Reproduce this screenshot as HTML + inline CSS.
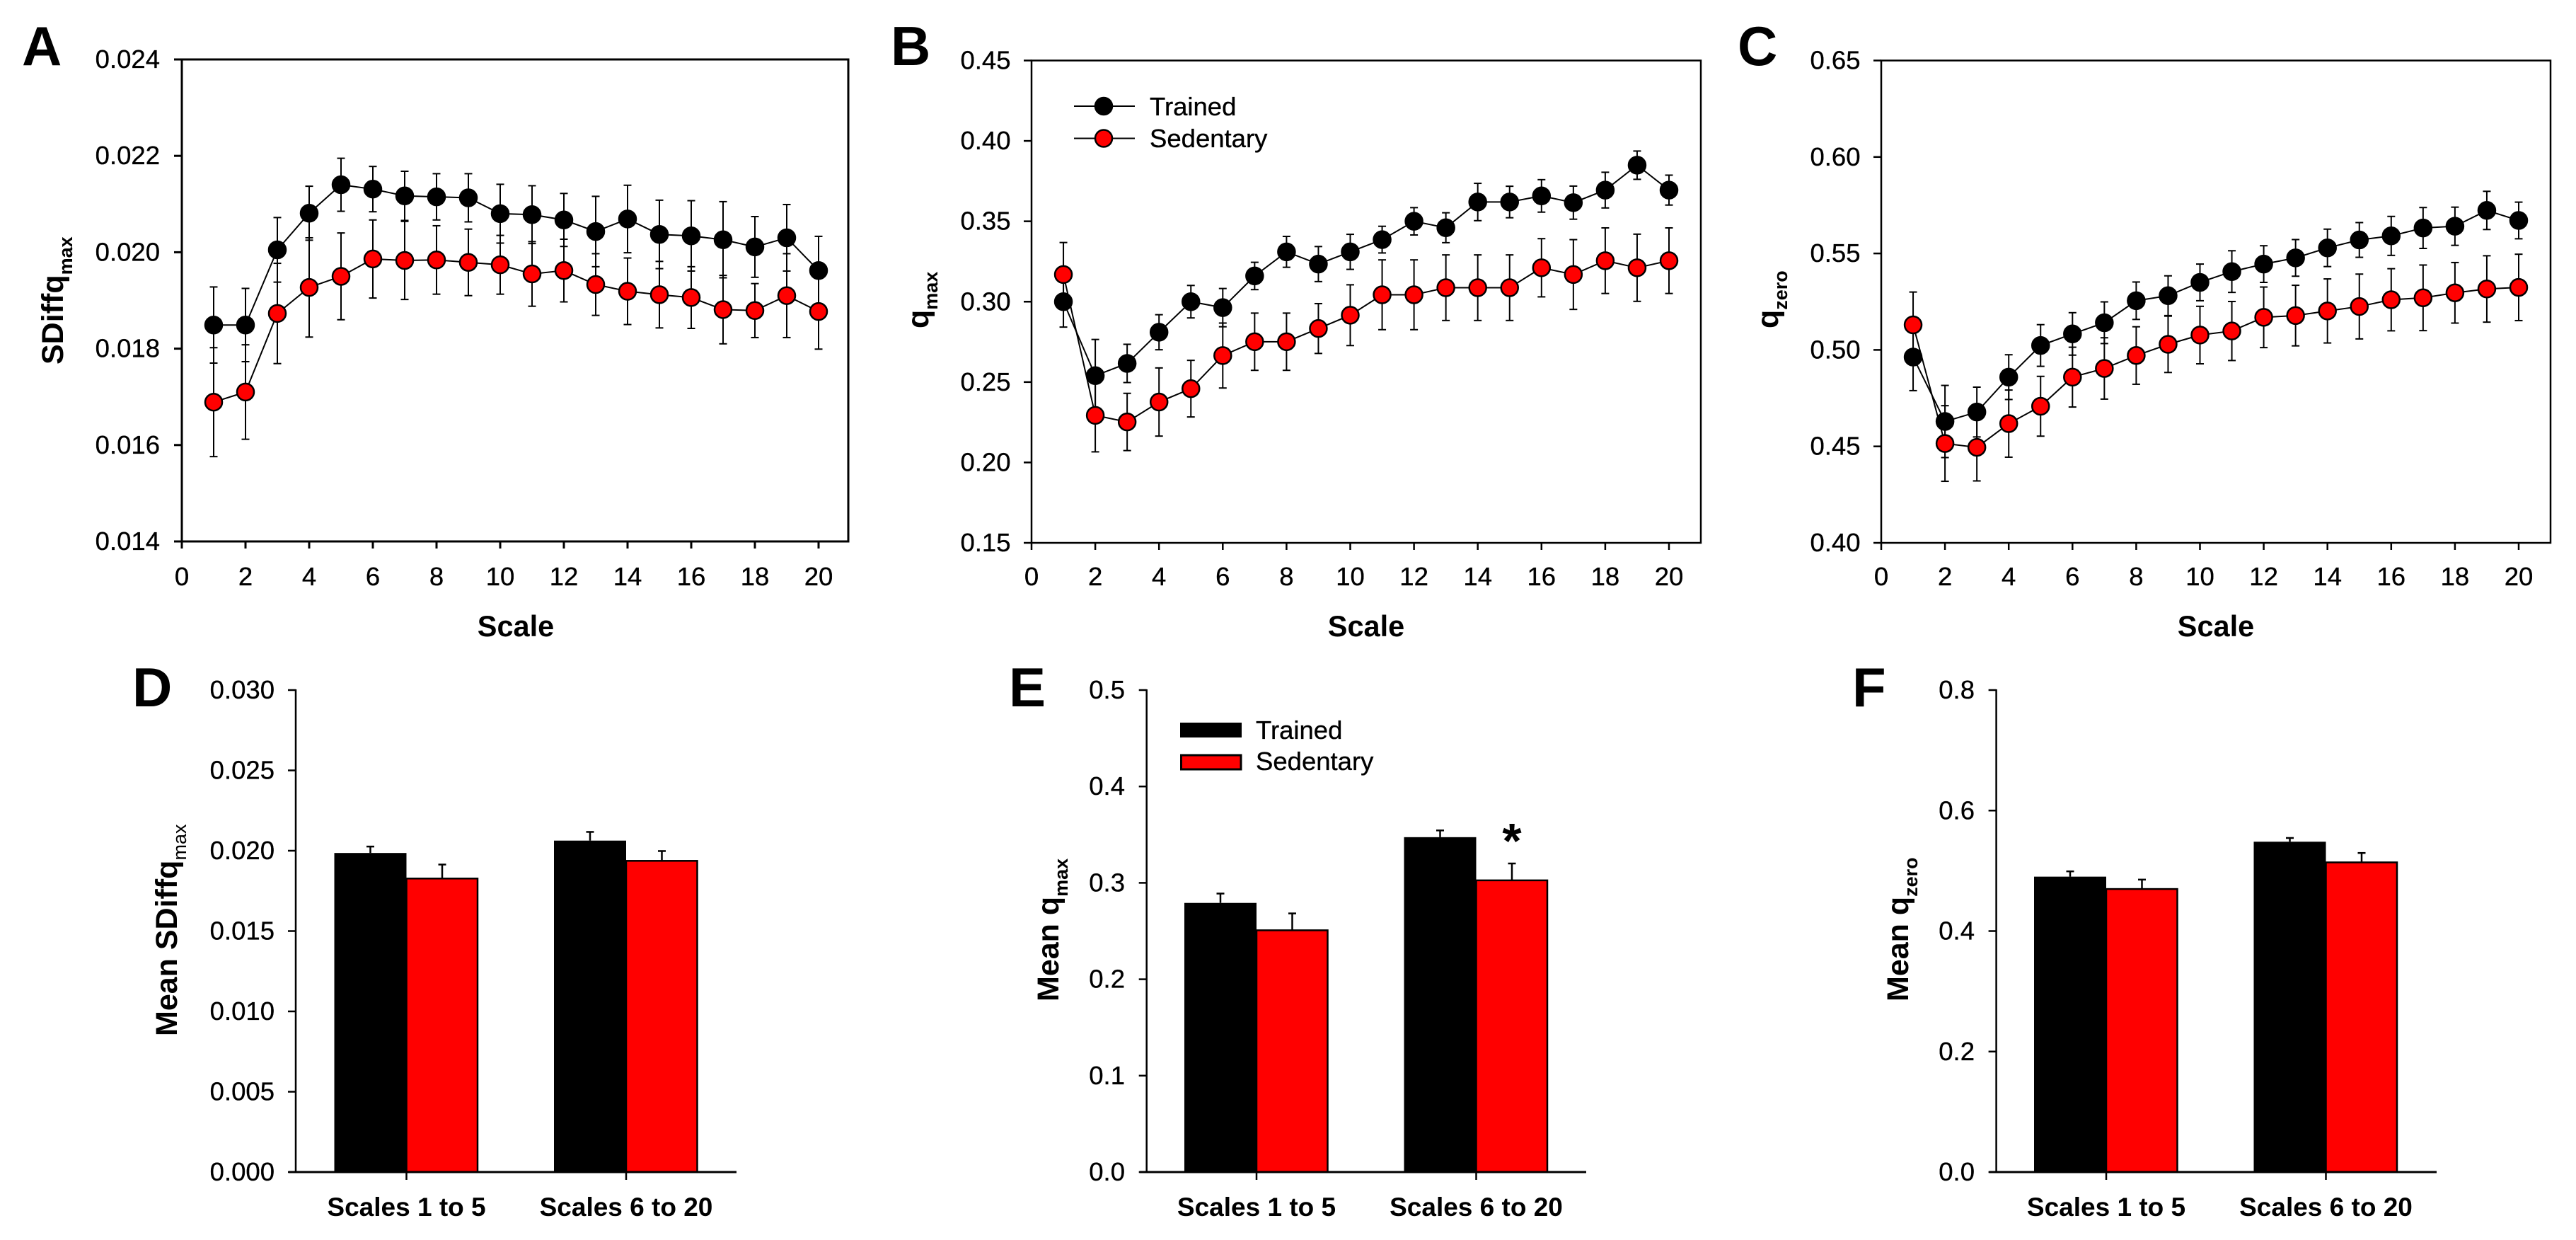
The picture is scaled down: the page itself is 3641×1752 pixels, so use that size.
<!DOCTYPE html>
<html lang="en">
<head>
<meta charset="utf-8">
<title>Multiscale q statistics: Trained vs Sedentary</title>
<style>
html,body{margin:0;padding:0;background:#fff;}
svg{display:block;}
text{font-family:"Liberation Sans",Arial,sans-serif;fill:#000;}
.letter{font-size:78px;font-weight:700;}
.title{font-size:43px;font-weight:700;}
.xtitle{font-size:41.5px;font-weight:700;}
.tick{font-size:36.5px;stroke:#000;stroke-width:0.35px;}
.cat{font-size:37px;font-weight:700;}
.sub{font-size:27px;font-weight:700;}
.subr{font-size:27px;font-weight:400;}
</style>
</head>
<body>
<svg id="fig" xmlns="http://www.w3.org/2000/svg" width="3641" height="1752" viewBox="0 0 3641 1752">
<rect x="0" y="0" width="3641" height="1752" fill="#fff"/>
<text class="letter" x="31" y="92">A</text>
<text class="letter" x="1259" y="92">B</text>
<text class="letter" x="2456" y="92">C</text>
<text class="letter" x="187" y="998">D</text>
<text class="letter" x="1426" y="998">E</text>
<text class="letter" x="2618" y="998">F</text>

<text class="title" transform="translate(89,515) rotate(-90)">SDiffq<tspan class="sub" dy="13">max</tspan></text>
<text class="title" transform="translate(1312,464) rotate(-90)">q<tspan class="sub" dy="13">max</tspan></text>
<text class="title" transform="translate(2513,464) rotate(-90)">q<tspan class="sub" dy="13">zero</tspan></text>
<text class="title" transform="translate(250,1464) rotate(-90)">Mean SDiffq<tspan class="subr" dy="13">max</tspan></text>
<text class="title" transform="translate(1496,1415) rotate(-90)">Mean q<tspan class="sub" dy="13">max</tspan></text>
<text class="title" transform="translate(2697,1415) rotate(-90)">Mean q<tspan class="sub" dy="13">zero</tspan></text>

<text class="xtitle" x="729" y="899" text-anchor="middle">Scale</text>
<text class="xtitle" x="1931" y="899" text-anchor="middle">Scale</text>
<text class="xtitle" x="3132" y="899" text-anchor="middle">Scale</text>

<g>
  <line x1="1518" y1="150" x2="1604" y2="150" stroke="#000" stroke-width="2"/>
  <circle cx="1560" cy="150" r="12.5" fill="#000" stroke="#000" stroke-width="1.5"/>
  <text class="tick" x="1625" y="163">Trained</text>
  <line x1="1518" y1="195.5" x2="1604" y2="195.5" stroke="#000" stroke-width="2"/>
  <circle cx="1560" cy="195.5" r="12" fill="#f00" stroke="#000" stroke-width="2.5"/>
  <text class="tick" x="1625" y="208">Sedentary</text>
</g>
<g>
  <rect x="1668" y="1021" width="87" height="21" fill="#000"/>
  <text class="tick" x="1775" y="1044">Trained</text>
  <rect x="1669.5" y="1067" width="84.5" height="20" fill="#f00" stroke="#000" stroke-width="3"/>
  <text class="tick" x="1775" y="1088">Sedentary</text>
</g>
<text x="2137" y="1212" text-anchor="middle" font-size="70" font-weight="700">*</text>
</svg>

<script>
// ---- shared axis tick labels ----
const scaleTicks = ["0","2","4","6","8","10","12","14","16","18","20"];
const scales = [1,2,3,4,5,6,7,8,9,10,11,12,13,14,15,16,17,18,19,20];
const groupCategories = ["Scales 1 to 5","Scales 6 to 20"];

// ---- panel A: SDiffq max ----
const ticksA = ["0.014","0.016","0.018","0.020","0.022","0.024"];
const trainedA = [.01849,.01849,.02005,.02081,.0214,.02131,.02117,.02115,.02113,.0208,.02078,.02067,.02043,.02069,.02037,.02034,.02026,.02011,.0203,.01962];
const trainedErrA = [.00079,.00076,.00067,.00056,.00055,.00047,.00051,.00048,.0005,.00061,.0006,.00055,.00073,.0007,.00071,.00073,.00079,.00063,.00069,.00071];
const sedentaryA = [.01689,.0171,.01873,.01927,.0195,.01986,.01983,.01984,.01979,.01974,.01955,.01962,.01933,.01919,.01912,.01906,.01881,.01879,.0191,.01877];
const sedentaryErrA = [.00113,.00098,.00104,.00103,.0009,.00081,.00081,.00071,.00069,.00061,.00067,.00065,.00064,.00069,.00069,.00064,.00071,.00056,.00087,.00078];

// ---- panel B: q max ----
const ticksB = ["0.15","0.20","0.25","0.30","0.35","0.40","0.45"];
const trainedB = [.30,.254,.2616,.281,.30,.2963,.316,.331,.3234,.331,.3386,.35,.346,.362,.362,.3658,.3616,.3694,.3849,.3694];
const trainedErrB = [.0158,.0225,.0119,.0109,.0101,.0119,.0085,.0096,.0109,.0109,.0083,.0085,.0093,.0116,.0098,.0101,.0103,.0111,.0088,.0093];
const sedentaryB = [.3169,.2293,.2252,.2376,.2459,.2665,.2751,.2751,.2833,.2916,.3043,.3043,.3087,.3087,.3087,.3211,.3169,.3255,.3211,.3255];
const sedentaryErrB = [.0199,.0227,.0178,.0212,.0176,.0202,.0178,.0178,.0155,.0189,.0217,.0217,.0204,.0204,.0204,.0181,.0217,.0204,.0209,.0204];

// ---- panel C: q zero ----
const ticksC = ["0.40","0.45","0.50","0.55","0.60","0.65"];
const trainedC = [.4963,.4629,.4678,.4859,.5023,.5083,.5141,.5255,.5281,.535,.5406,.5445,.5477,.5529,.557,.5591,.5632,.5641,.5723,.5671];
const trainedErrC = [.0174,.0187,.0129,.0116,.0108,.011,.0108,.0097,.0103,.0095,.0108,.0095,.0095,.0097,.009,.0101,.0106,.0099,.0099,.0095];
const sedentaryC = [.513,.4515,.4495,.4618,.4708,.4859,.4904,.4971,.5029,.5077,.5098,.5169,.5178,.5202,.5225,.526,.527,.5296,.5316,.5324];
const sedentaryErrC = [.017,.0196,.0174,.0174,.0155,.0155,.0159,.0149,.0146,.0149,.0153,.0157,.0157,.0166,.0168,.0161,.017,.0157,.0172,.0172];

// ---- panel D: mean SDiffq max ----
const ticksD = ["0.000","0.005","0.010","0.015","0.020","0.025","0.030"];
const trainedD = [.01986,.02063];
const trainedErrD = [.0004,.00054];
const sedentaryD = [.01827,.01937];
const sedentaryErrD = [.00087,.00061];

// ---- panel E: mean q max ----
const ticksE = ["0.0","0.1","0.2","0.3","0.4","0.5"];
const trainedE = [.2792,.3474];
const trainedErrE = [.0097,.007];
const sedentaryE = [.2508,.3026];
const sedentaryErrE = [.0175,.0175];

// ---- panel F: mean q zero ----
const ticksF = ["0.0","0.2","0.4","0.6","0.8"];
const trainedF = [.4903,.5483];
const trainedErrF = [.0088,.0062];
const sedentaryF = [.4698,.514];
const sedentaryErrF = [.0156,.0156];

const svgNS = "http://www.w3.org/2000/svg";
const fig = document.getElementById("fig");

function make(tag, attrs, parent, txt) {
  const el = document.createElementNS(svgNS, tag);
  for (const k in attrs) el.setAttribute(k, attrs[k]);
  if (txt !== undefined) el.textContent = txt;
  parent.appendChild(el);
  return el;
}
function linear(d0, d1, r0, r1) {
  return function (v) { return r0 + (v - d0) * (r1 - r0) / (d1 - d0); };
}
function vline(parent, x, y1, y2, w, name) {
  const el = make("line", {x1:x, x2:x, y1:y1, y2:y2, stroke:"#000", "stroke-width":w}, parent);
  
  
  return el;
}
function hline(parent, x1, x2, y, w, name) {
  const el = make("line", {x1:x1, x2:x2, y1:y, y2:y, stroke:"#000", "stroke-width":w}, parent);
  
  
  return el;
}
function yAxisTicks(parent, labels, yScale, axisX, rightEdge, tickLen, w, id) {
  labels.forEach(function (lab) {
    const y = yScale(Number(lab));
    hline(parent, axisX - tickLen, axisX, y, w, "y-tick-" + id);
    const t = make("text", {class:"tick", x:rightEdge, y:y + 12, "text-anchor":"end"}, parent, lab);
    
    
  });
}

function drawSeries(parent, xS, yS, values, errs, fill, seriesName) {
  const g = make("g", {}, parent);
  
  
  values.forEach(function (v, i) {
    const x = xS(scales[i]);
    const hi = yS(v + errs[i]), lo = yS(v - errs[i]);
    vline(g, x, hi, lo, 2, "error-bar-" + seriesName);
    hline(g, x - 5.5, x + 5.5, hi, 2, "error-cap-" + seriesName);
    hline(g, x - 5.5, x + 5.5, lo, 2, "error-cap-" + seriesName);
  });
  const pts = values.map(function (v, i) { return xS(scales[i]) + "," + yS(v); }).join(" ");
  const line = make("polyline", {points:pts, fill:"none", stroke:"#000", "stroke-width":2}, g);
  
  
  values.forEach(function (v, i) {
    const c = make("circle", {cx:xS(scales[i]), cy:yS(v), r:12, fill:fill, stroke:"#000", "stroke-width":2.5}, g);
    
    
  });
}

function linePanel(id, left, right, top, bottom, unit, frameW, labelRight, ticks, trained, trainedErr, sedentary, sedentaryErr) {
  const g = make("g", {}, fig);
  
  
  const xS = linear(0, 1, left, left + unit);
  const yS = linear(Number(ticks[0]), Number(ticks[ticks.length - 1]), bottom, top);
  const frame = make("rect", {x:left, y:top, width:right - left, height:bottom - top, fill:"none", stroke:"#000", "stroke-width":frameW}, g);
  
  
  yAxisTicks(g, ticks, yS, left, labelRight, 11, frameW, id);
  scaleTicks.forEach(function (lab) {
    const x = xS(Number(lab));
    vline(g, x, bottom, bottom + 10, frameW, "x-tick-" + id);
    const t = make("text", {class:"tick", x:x, y:827, "text-anchor":"middle"}, g, lab);
    
    
  });
  drawSeries(g, xS, yS, trained, trainedErr, "#000", "trained-" + id);
  drawSeries(g, xS, yS, sedentary, sedentaryErr, "#f00", "sedentary-" + id);
}

function barPanel(id, axisX, axisRight, firstCenter, step, top, bottom, labelRight, ticks, trained, trainedErr, sedentary, sedentaryErr) {
  const g = make("g", {}, fig);
  
  
  const yS = linear(Number(ticks[0]), Number(ticks[ticks.length - 1]), bottom, top);
  groupCategories.forEach(function (cat, i) {
    const c = firstCenter + step * i;
    // error whiskers
    const tx = c - 51, sx = c + 50.5;
    vline(g, tx, yS(trained[i] + trainedErr[i]), yS(trained[i]), 2.5, "error-bar-trained-" + id);
    hline(g, tx - 5.5, tx + 5.5, yS(trained[i] + trainedErr[i]), 2.5, "error-cap-trained-" + id);
    vline(g, sx, yS(sedentary[i] + sedentaryErr[i]), yS(sedentary[i]), 2.5, "error-bar-sedentary-" + id);
    hline(g, sx - 5.5, sx + 5.5, yS(sedentary[i] + sedentaryErr[i]), 2.5, "error-cap-sedentary-" + id);
    // bars
    const b1 = make("rect", {x:c - 102, y:yS(trained[i]), width:102, height:bottom - yS(trained[i]), fill:"#000"}, g);
    
    
    const b2 = make("rect", {x:c, y:yS(sedentary[i]), width:100.5, height:bottom - yS(sedentary[i]), fill:"#f00", stroke:"#000", "stroke-width":2.5}, g);
    
    
    vline(g, c, bottom, bottom + 11, 2.5, "x-tick-" + id);
    const t = make("text", {class:"cat", x:c, y:1718, "text-anchor":"middle"}, g, cat);
    
    
  });
  vline(g, axisX, top - 1, bottom + 1.5, 2.5, "y-axis-" + id);
  hline(g, axisX - 10, axisRight, bottom, 3, "x-axis-" + id);
  yAxisTicks(g, ticks, yS, axisX, labelRight, 11, 2.5, id);
}

linePanel("a", 257, 1199, 84, 765, 45, 3, 226, ticksA, trainedA, trainedErrA, sedentaryA, sedentaryErrA);
linePanel("b", 1458, 2404, 85.5, 767, 45.05, 2.5, 1428.5, ticksB, trainedB, trainedErrB, sedentaryB, sedentaryErrB);
linePanel("c", 2659, 3605, 85.5, 767, 45.05, 2.5, 2629.5, ticksC, trainedC, trainedErrC, sedentaryC, sedentaryErrC);
barPanel("d", 418, 1041, 574.5, 310.5, 975, 1656, 388, ticksD, trainedD, trainedErrD, sedentaryD, sedentaryErrD);
barPanel("e", 1620.7, 2242, 1776, 310.5, 975, 1656, 1590, ticksE, trainedE, trainedErrE, sedentaryE, sedentaryErrE);
barPanel("f", 2821.6, 3444, 2977, 310.5, 975, 1656, 2791, ticksF, trainedF, trainedErrF, sedentaryF, sedentaryErrF);
</script>
</body>
</html>
